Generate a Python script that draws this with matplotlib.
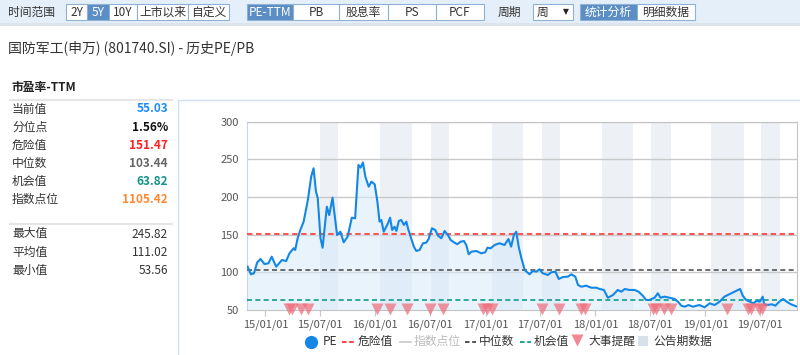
import matplotlib
matplotlib.use('Agg')
import matplotlib.pyplot as plt
import pandas as pd
from matplotlib.patches import Rectangle
from matplotlib.lines import Line2D

plt.rcParams['font.family'] = ['Noto Sans CJK SC', 'DejaVu Sans']

# ---- data ----
pe_dates = [
    '2014-11-03', '2014-11-14', '2014-11-24', '2014-12-05', '2014-12-16', '2014-12-29',
    '2015-01-11', '2015-01-22', '2015-02-06', '2015-02-25', '2015-03-11', '2015-03-22',
    '2015-04-05', '2015-04-10', '2015-04-18', '2015-04-27', '2015-05-08', '2015-05-22',
    '2015-06-02', '2015-06-10', '2015-06-18', '2015-06-24', '2015-07-03', '2015-07-10',
    '2015-07-24', '2015-08-01', '2015-08-12', '2015-08-27', '2015-09-07', '2015-09-18',
    '2015-10-01', '2015-10-15', '2015-10-26', '2015-11-06', '2015-11-13', '2015-11-21',
    '2015-11-29', '2015-12-10', '2015-12-19', '2015-12-30', '2016-01-08', '2016-01-15',
    '2016-01-21', '2016-01-29', '2016-02-12', '2016-02-19', '2016-02-26', '2016-03-05',
    '2016-03-11', '2016-03-19', '2016-03-27', '2016-04-05', '2016-04-13', '2016-04-20',
    '2016-04-29', '2016-05-08', '2016-05-16', '2016-05-27', '2016-06-07', '2016-06-18',
    '2016-06-26', '2016-07-07', '2016-07-18', '2016-07-27', '2016-08-07', '2016-08-18',
    '2016-08-29', '2016-09-07', '2016-09-18', '2016-09-29', '2016-10-10', '2016-10-21',
    '2016-10-29', '2016-11-06', '2016-11-15', '2016-12-01', '2016-12-18', '2016-12-31',
    '2017-01-07', '2017-01-18', '2017-01-31', '2017-02-16', '2017-03-05', '2017-03-18',
    '2017-03-27', '2017-04-05', '2017-04-13', '2017-04-21', '2017-04-30', '2017-05-11',
    '2017-05-27', '2017-06-07', '2017-06-19', '2017-06-29', '2017-07-10', '2017-07-27',
    '2017-08-07', '2017-08-21', '2017-09-01', '2017-09-15', '2017-10-01', '2017-10-13',
    '2017-10-26', '2017-11-04', '2017-11-15', '2017-12-01', '2017-12-18', '2018-01-04',
    '2018-01-15', '2018-01-29', '2018-02-11', '2018-02-28', '2018-03-16', '2018-03-28',
    '2018-04-08', '2018-04-24', '2018-05-11', '2018-05-24', '2018-06-07', '2018-06-18',
    '2018-06-29', '2018-07-16', '2018-07-27', '2018-08-05', '2018-08-18', '2018-09-04',
    '2018-09-21', '2018-10-02', '2018-10-13', '2018-10-24', '2018-11-06', '2018-11-20',
    '2018-12-12', '2018-12-29', '2019-01-15', '2019-01-31', '2019-02-17', '2019-03-05',
    '2019-03-16', '2019-03-27', '2019-04-07', '2019-04-19', '2019-04-26', '2019-05-05',
    '2019-05-16', '2019-05-29', '2019-06-09', '2019-06-20', '2019-07-01', '2019-07-10',
    '2019-07-15', '2019-07-26', '2019-08-10', '2019-08-21', '2019-09-03', '2019-09-16',
    '2019-09-28', '2019-10-12', '2019-10-29',
]
pe_values = [
    107.5, 97.4, 98.7, 113.3, 117.7, 111.0,
    112.0, 120.8, 107.5, 116.4, 115.0, 125.3,
    132.0, 129.7, 145.2, 156.2, 167.3, 196.0,
    227.0, 238.2, 207.2, 198.3, 145.2, 132.7,
    187.2, 176.0, 199.1, 149.6, 154.0, 139.9,
    147.3, 172.6, 171.7, 242.6, 239.0, 245.8,
    227.0, 213.7, 220.4, 216.9, 193.8, 167.3,
    169.5, 154.0, 165.1, 172.6, 156.2, 160.6,
    154.9, 168.2, 169.5, 162.9, 167.3, 156.2,
    145.2, 134.1, 128.4, 129.7, 138.6, 139.4,
    144.3, 158.5, 156.2, 148.7, 145.2, 154.9,
    149.6, 143.0, 139.9, 137.3, 140.7, 141.6,
    136.3, 124.0, 127.4, 128.4, 125.3, 126.6,
    132.7, 131.9, 136.3, 138.6, 136.3, 144.3,
    134.1, 149.6, 154.0, 134.1, 118.7, 103.1,
    97.4, 101.8, 100.9, 104.0, 98.7, 96.5,
    100.0, 100.9, 91.2, 93.8, 94.3, 97.4,
    94.3, 83.2, 80.9, 82.3, 79.6, 79.6,
    77.9, 76.6, 66.3, 69.9, 76.6, 74.3,
    77.9, 76.6, 76.6, 74.3, 69.0, 63.3,
    63.3, 66.3, 72.2, 66.3, 67.7, 66.3,
    64.6, 61.0, 55.7, 54.4, 56.6, 54.4,
    56.6, 53.6, 58.9, 56.6, 61.0, 67.7,
    69.9, 72.2, 74.3, 76.6, 77.9, 69.0,
    63.3, 61.0, 58.9, 62.0, 61.0, 67.7,
    57.6, 56.6, 57.6, 55.7, 61.0, 64.6,
    61.0, 57.6, 55.03,
]

# 大事提醒
event_dates = [
    '2015-03-19', '2015-04-01', '2015-04-29', '2015-05-22', '2016-01-06', '2016-02-20',
    '2016-04-15', '2016-06-29', '2016-08-12', '2016-12-22', '2017-01-06', '2017-01-24',
    '2017-07-06', '2017-09-01', '2017-11-15', '2017-11-26', '2018-07-10', '2018-07-21',
    '2018-08-18', '2018-09-09', '2019-03-15', '2019-05-21', '2019-06-01', '2019-06-29',
    '2019-07-09',
]

# 公告期数据
report_start = ['2015-07-02', '2016-01-15', '2016-07-05', '2017-01-21', '2017-07-07',
                '2018-01-21', '2018-07-05', '2019-01-18', '2019-07-05']
report_end = ['2015-08-31', '2016-05-02', '2016-08-31', '2017-05-04', '2017-09-05',
              '2018-05-04', '2018-09-08', '2019-05-08', '2019-09-05']

danger_value = 151.47
median_value = 103.44
chance_value = 63.82

tick_dates = ['2015-01-01', '2015-07-01', '2016-01-01', '2016-07-01', '2017-01-01',
              '2017-07-01', '2018-01-01', '2018-07-01', '2019-01-01', '2019-07-01']
tick_labels = ['15/01/01', '15/07/01', '16/01/01', '16/07/01', '17/01/01',
               '17/07/01', '18/01/01', '18/07/01', '19/01/01', '19/07/01']

stat_labels = ['当前值', '分位点', '危险值', '中位数', '机会值', '指数点位']
stat_values = ['55.03', '1.56%', '151.47', '103.44', '63.82', '1105.42']
stat_colors = ['#1a8cff', '#111111', '#ff2020', '#666666', '#139485', '#ff8833']
range_labels = ['最大值', '平均值', '最小值']
range_values = ['245.82', '111.02', '53.56']

W, H = 800, 355


def fx(x):
    return x / W


def fy(y):
    return 1 - y / H


fig = plt.figure(figsize=(8, 3.55), dpi=100)
fig.patch.set_facecolor('white')

# ---- toolbar ----
fig.add_artist(Rectangle((0, fy(23)), 1, 23 / H, transform=fig.transFigure,
                         facecolor='#e4eff9', edgecolor='none'))
fig.add_artist(Rectangle((0, fy(26)), 1, 3 / H, transform=fig.transFigure,
                         facecolor='#dde3ea', edgecolor='none'))
fig.text(fx(8), fy(12), '时间范围', fontsize=8.5, color='#333', va='center')
fig.text(fx(498), fy(12), '周期', fontsize=8.5, color='#333', va='center')
buttons = [
    ('2Y', 66, 87, False), ('5Y', 87, 109, True), ('10Y', 109, 137, False),
    ('上市以来', 137, 188, False), ('自定义', 188, 229, False),
    ('PE-TTM', 247, 293, True), ('PB', 293, 339, False), ('股息率', 339, 388, False),
    ('PS', 388, 436, False), ('PCF', 436, 484, False),
    ('周', 533, 573, False),
    ('统计分析', 580, 637, True), ('明细数据', 637, 695, False),
]
for text, x0, x1, sel in buttons:
    fig.add_artist(Rectangle((fx(x0), fy(20)), (x1 - x0) / W, 16 / H,
                             transform=fig.transFigure,
                             facecolor='#5b8ec4' if sel else 'white',
                             edgecolor='#8fb2d4', lw=0.8))
    if text == '周':
        fig.text(fx(x0 + 4), fy(12), text, fontsize=8.5, color='#333', va='center')
        fig.text(fx(x1 - 7), fy(12), '▼', fontsize=5.5, color='#222',
                 va='center', ha='center', family='DejaVu Sans')
    else:
        fig.text(fx((x0 + x1) / 2), fy(12), text, fontsize=8.5,
                 color='white' if sel else '#333', ha='center', va='center')

# ---- title ----
fig.text(fx(8), fy(49), '国防军工(申万) (801740.SI) - 历史PE/PB', fontsize=10,
         color='#333', va='center')

# ---- left stats panel ----
fig.text(fx(12), fy(87), '市盈率-TTM', fontsize=8.5, color='#222',
         weight='bold', va='center')
fig.add_artist(Line2D([fx(10), fx(172)], [fy(100), fy(100)],
                      transform=fig.transFigure, color='#e6e6e6', lw=1.5))
row_y = [109, 127.5, 145.5, 163.5, 181.5, 199.5]
for lab, val, col, y in zip(stat_labels, stat_values, stat_colors, row_y):
    fig.text(fx(12), fy(y), lab, fontsize=8.5, color='#333', va='center')
    fig.text(fx(168), fy(y), val, fontsize=8.5, color=col, va='center',
             ha='right', weight='bold')
fig.add_artist(Line2D([fx(10), fx(172)], [fy(224), fy(224)],
                      transform=fig.transFigure, color='#e6e6e6', lw=1.5))
for lab, val, y in zip(range_labels, range_values, [234, 252, 270]):
    fig.text(fx(12), fy(y), lab, fontsize=8.5, color='#333', va='center')
    fig.text(fx(168), fy(y), val, fontsize=8.5, color='#333', va='center', ha='right')

# chart panel frame
fig.add_artist(Line2D([fx(178), fx(178), fx(800)], [fy(355), fy(100), fy(100)],
                      transform=fig.transFigure, color='#cfe0f0', lw=1))

# ---- main chart ----
ax = fig.add_axes([fx(247), fy(310), (797 - 247) / W, (310 - 121.7) / H])
ax.set_facecolor('white')

dates = pd.to_datetime(pe_dates)
for s, e in zip(report_start, report_end):
    ax.axvspan(pd.Timestamp(s), pd.Timestamp(e), color='#edf1f6', lw=0, zorder=0)

for v in [100, 150, 200, 250, 300]:
    ax.axhline(v, color='#c9c9c9', lw=1, zorder=1)

ax.fill_between(dates, pe_values, 50, color='#d6eafb', alpha=0.55, lw=0, zorder=2)
ax.axhline(danger_value, color='#ff4444', lw=1.3, ls=(0, (3, 2)), zorder=3)
ax.axhline(median_value, color='#555555', lw=1.2, ls=(0, (3, 2)), zorder=3)
ax.axhline(chance_value, color='#0f9c8c', lw=1.2, ls=(0, (3, 2)), zorder=3)
ax.plot(dates, pe_values, color='#1487e6', lw=1.5, zorder=4)

ev = pd.to_datetime(event_dates)
ax.plot(ev, [51.2] * len(ev), 'v', color='#f06a78', alpha=0.7, ms=8.5,
        mec='none', clip_on=False, zorder=5)

ax.set_xlim(pd.Timestamp('2014-11-01'), pd.Timestamp('2019-11-01'))
ax.set_ylim(50, 300)
ax.set_yticks([50, 100, 150, 200, 250, 300])
ax.set_xticks(pd.to_datetime(tick_dates))
ax.set_xticklabels(tick_labels)
ax.tick_params(axis='y', length=0, pad=6, labelsize=8, labelcolor='#555')
ax.tick_params(axis='x', length=4, width=0.8, color='#c0c8d0', pad=3,
               labelsize=8, labelcolor='#555')
for side in ['top', 'right', 'bottom']:
    ax.spines[side].set_color('#c4c4c4')
ax.spines['left'].set_color('#c6d6e6')

# ---- legend ----
ly = fy(341.5)
fig.add_artist(Line2D([fx(310.7)], [ly], marker='o', ms=8.5, color='#1487e6',
                      transform=fig.transFigure))
legend_lines = [
    (342, 355, '#ff3030', (0, (2.5, 1.5))),
    (400, 411, '#cccccc', '-'),
    (465, 476, '#444444', (0, (2.5, 1.5))),
    (520, 531, '#0f9c8c', (0, (2.5, 1.5))),
]
for x0, x1, c, ls in legend_lines:
    fig.add_artist(Line2D([fx(x0), fx(x1)], [ly, ly], color=c, ls=ls, lw=1.3,
                          transform=fig.transFigure))
fig.add_artist(Line2D([fx(577)], [fy(340)], marker='v', ms=8, color='#f06a78',
                      mec='none', alpha=0.8, transform=fig.transFigure))
fig.add_artist(Rectangle((fx(638), fy(346)), 10 / W, 10 / H, transform=fig.transFigure,
                         facecolor='#d8e0ea', edgecolor='none'))
legend_texts = [
    (323, 'PE', '#333'), (358, '危险值', '#333'), (414, '指数点位', '#bbbbbb'),
    (479, '中位数', '#333'), (534, '机会值', '#333'), (588, '大事提醒', '#333'),
    (653, '公告期数据', '#333'),
]
for x, t, c in legend_texts:
    fig.text(fx(x), ly, t, fontsize=8.5, color=c, va='center')

fig.savefig('out.png', dpi=100)
